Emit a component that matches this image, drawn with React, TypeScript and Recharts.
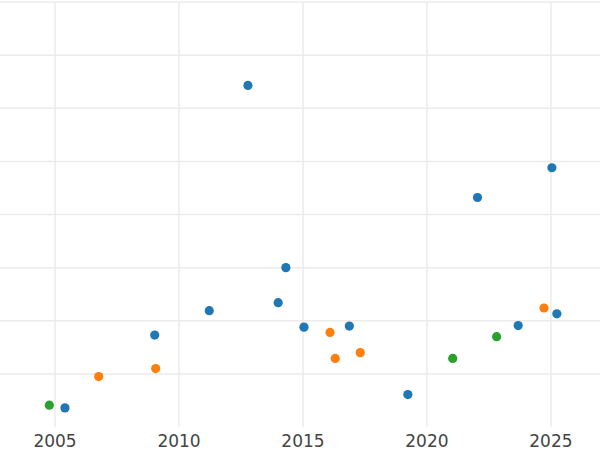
import { ScatterChart, Scatter, XAxis, YAxis, CartesianGrid } from 'recharts';

// values (y axis has no labels, so arbitrary 0-80 units)
const yearTicks = [2005, 2010, 2015, 2020, 2025];
const valueTicks = [10, 20, 30, 40, 50, 60, 70, 80];
const yearDomain = [2002.78, 2026.98];
const valueDomain = [0, 80];

const blueYears = [2005.4, 2009.02, 2011.22, 2012.78, 2014.0, 2014.31, 2015.04, 2016.87, 2019.23, 2022.04, 2023.68, 2025.04, 2025.24];
const blueValues = [3.6, 17.3, 21.9, 64.3, 23.4, 30.0, 18.8, 19.0, 6.1, 43.2, 19.1, 48.8, 21.3];

const orangeYears = [2006.76, 2009.06, 2016.09, 2016.3, 2017.31, 2024.72];
const orangeValues = [9.5, 11.0, 17.8, 12.9, 14.0, 22.4];

const greenYears = [2004.77, 2021.04, 2022.81];
const greenValues = [4.1, 12.9, 17.0];

const toPoints = (years: number[], values: number[]) =>
  years.map((year, i) => ({ year, value: values[i] }));

const series = [
  { name: 'blue', color: '#1f77b4', data: toPoints(blueYears, blueValues) },
  { name: 'orange', color: '#ff7f0e', data: toPoints(orangeYears, orangeValues) },
  { name: 'green', color: '#2ca02c', data: toPoints(greenYears, greenValues) },
];

function dot(color: string) {
  return (props: any) => <circle cx={props.cx} cy={props.cy} r={4.6} fill={color} />;
}

function applyScale(scale: any, v: number): number | undefined {
  if (typeof scale === 'function') return scale(v);
  if (scale && typeof scale.map === 'function') return scale.map(v);
  return undefined;
}

// only draw grid lines at the tick values, not at the plot edges
const hLines = (props: any) => {
  const { offset } = props;
  return valueTicks.map((t) => {
    const s = applyScale(props.yAxis?.scale, t);
    if (s != null && !Number.isNaN(s)) return s;
    const f = (t - valueDomain[0]) / (valueDomain[1] - valueDomain[0]);
    return offset.top + offset.height * (1 - f);
  });
};
const vLines = (props: any) => {
  const { offset } = props;
  return yearTicks.map((t) => {
    const s = applyScale(props.xAxis?.scale, t);
    if (s != null && !Number.isNaN(s)) return s;
    const f = (t - yearDomain[0]) / (yearDomain[1] - yearDomain[0]);
    return offset.left + offset.width * f;
  });
};

export default function App() {
  return (
    <div style={{ position: 'absolute', left: 0, top: 0, background: '#fff' }}>
      <ScatterChart width={600} height={450} margin={{ top: 2, right: 0, bottom: 0, left: 0 }}>
        <CartesianGrid
          stroke="#ebebeb"
          strokeWidth={1.5}
          horizontalCoordinatesGenerator={hLines}
          verticalCoordinatesGenerator={vLines}
        />
        <XAxis
          type="number"
          dataKey="year"
          domain={yearDomain}
          ticks={yearTicks}
          allowDataOverflow
          axisLine={false}
          tickLine={false}
          height={23}
          tick={{ fill: '#444', fontSize: 17, fontFamily: 'DejaVu Sans' }}
        />
        <YAxis type="number" dataKey="value" domain={valueDomain} ticks={valueTicks} hide />
        {series.map((s) => (
          <Scatter
            key={s.name}
            data={s.data}
            fill={s.color}
            shape={dot(s.color)}
            isAnimationActive={false}
          />
        ))}
      </ScatterChart>
    </div>
  );
}
